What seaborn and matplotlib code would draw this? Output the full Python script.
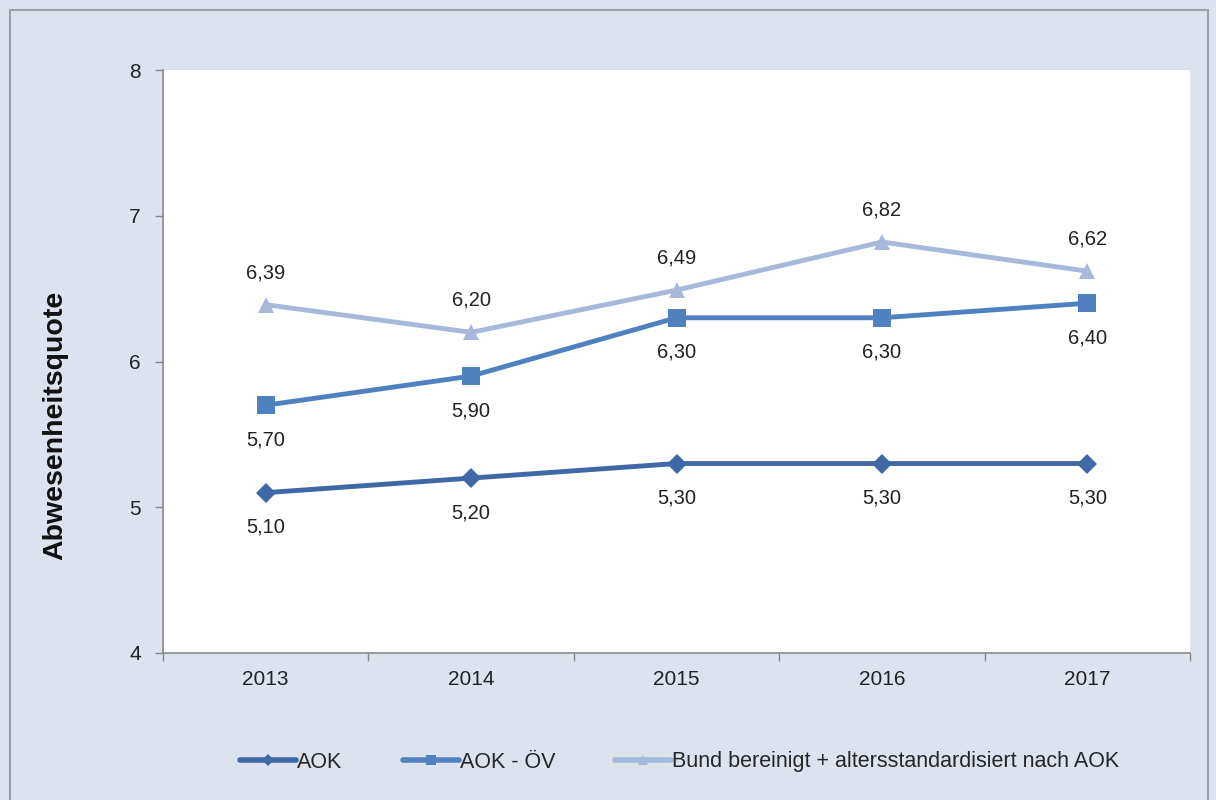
import numpy as np
import pandas as pd
import matplotlib.pyplot as plt
import seaborn as sns
from matplotlib.patches import Rectangle

# Data
years = ["2013", "2014", "2015", "2016", "2017"]
aok = [5.10, 5.20, 5.30, 5.30, 5.30]
aok_oev = [5.70, 5.90, 6.30, 6.30, 6.40]
bund = [6.39, 6.20, 6.49, 6.82, 6.62]

series_names = ["AOK", "AOK - ÖV", "Bund bereinigt + altersstandardisiert nach AOK"]
series_values = [aok, aok_oev, bund]
colors = ["#3E68A6", "#4F81C0", "#A6B9DA"]
markers = ["D", "s", "^"]
marker_sizes = [10, 13, 12]
label_pos = ["below", "below", "above"]

BG = "#DCE3EE"

sns.set_theme(style="white")
plt.rcParams["font.family"] = ["Liberation Sans", "DejaVu Sans"]

df = pd.DataFrame({
    "year": np.tile(np.arange(len(years)), len(series_names)),
    "value": np.concatenate(series_values),
    "series": np.repeat(series_names, len(years)),
})

fig = plt.figure(figsize=(12.16, 8.0), dpi=100, facecolor=BG)
fig.patches.append(Rectangle((10 / 1216, -0.01), 1198 / 1216, 0.9975,
                             transform=fig.transFigure, fill=False,
                             edgecolor="#9A9FA8", linewidth=1.5))
ax = fig.add_axes([163 / 1216, 147 / 800, 1027 / 1216, 583 / 800])
ax.set_facecolor("white")

sns.lineplot(data=df, x="year", y="value", hue="series", style="series",
             palette=colors, markers=markers, dashes=False, linewidth=3.5,
             markeredgewidth=0, ax=ax, legend=False)
for line, ms in zip(ax.lines, marker_sizes):
    line.set_markersize(ms)

# Value labels
for vals, pos in zip(series_values, label_pos):
    for i, v in enumerate(vals):
        off = 23 if pos == "above" else -25
        ax.annotate(f"{v:.2f}".replace(".", ","), (i, v), xytext=(0, off),
                    textcoords="offset points", ha="center", va="center",
                    fontsize=14.5, color="#222222")

ax.set_xlim(-0.5, len(years) - 0.5)
ax.set_ylim(4, 8)
ax.set_yticks([4, 5, 6, 7, 8])
ax.set_xticks(np.arange(-0.5, len(years)), labels=[""] * (len(years) + 1))
ax.set_xticks(np.arange(len(years)), labels=years, minor=True)
ax.tick_params(axis="x", which="major", length=6, width=1, color="#888888",
               direction="out", bottom=True)
ax.tick_params(axis="x", which="minor", length=0, pad=12, labelsize=15)
ax.tick_params(axis="y", length=6, width=1, color="#888888", direction="out",
               left=True, pad=10, labelsize=15)
for lab in ax.get_yticklabels() + ax.get_xticklabels(minor=True):
    lab.set_color("#222222")

for side in ["top", "right"]:
    ax.spines[side].set_visible(False)
for side in ["left", "bottom"]:
    ax.spines[side].set_color("#888888")
    ax.spines[side].set_linewidth(1.2)

ax.set_xlabel("")
ax.set_ylabel("Abwesenheitsquote", fontsize=20.5, fontweight="bold",
              color="#111111")
ax.yaxis.set_label_coords(-0.0925, 0.391)

handles = [plt.Line2D([], [], color=c, marker=m, markersize=ms * 0.6,
                      markeredgewidth=0, linewidth=4)
           for c, m, ms in zip(colors, markers, marker_sizes)]
fig.legend(handles, series_names, loc="center", bbox_to_anchor=(0.559, 0.0475),
           ncol=3, frameon=False, fontsize=15.5, handlelength=2.6,
           handletextpad=0.05, columnspacing=2.8)

fig.savefig("out.png", dpi=100, facecolor=BG)
